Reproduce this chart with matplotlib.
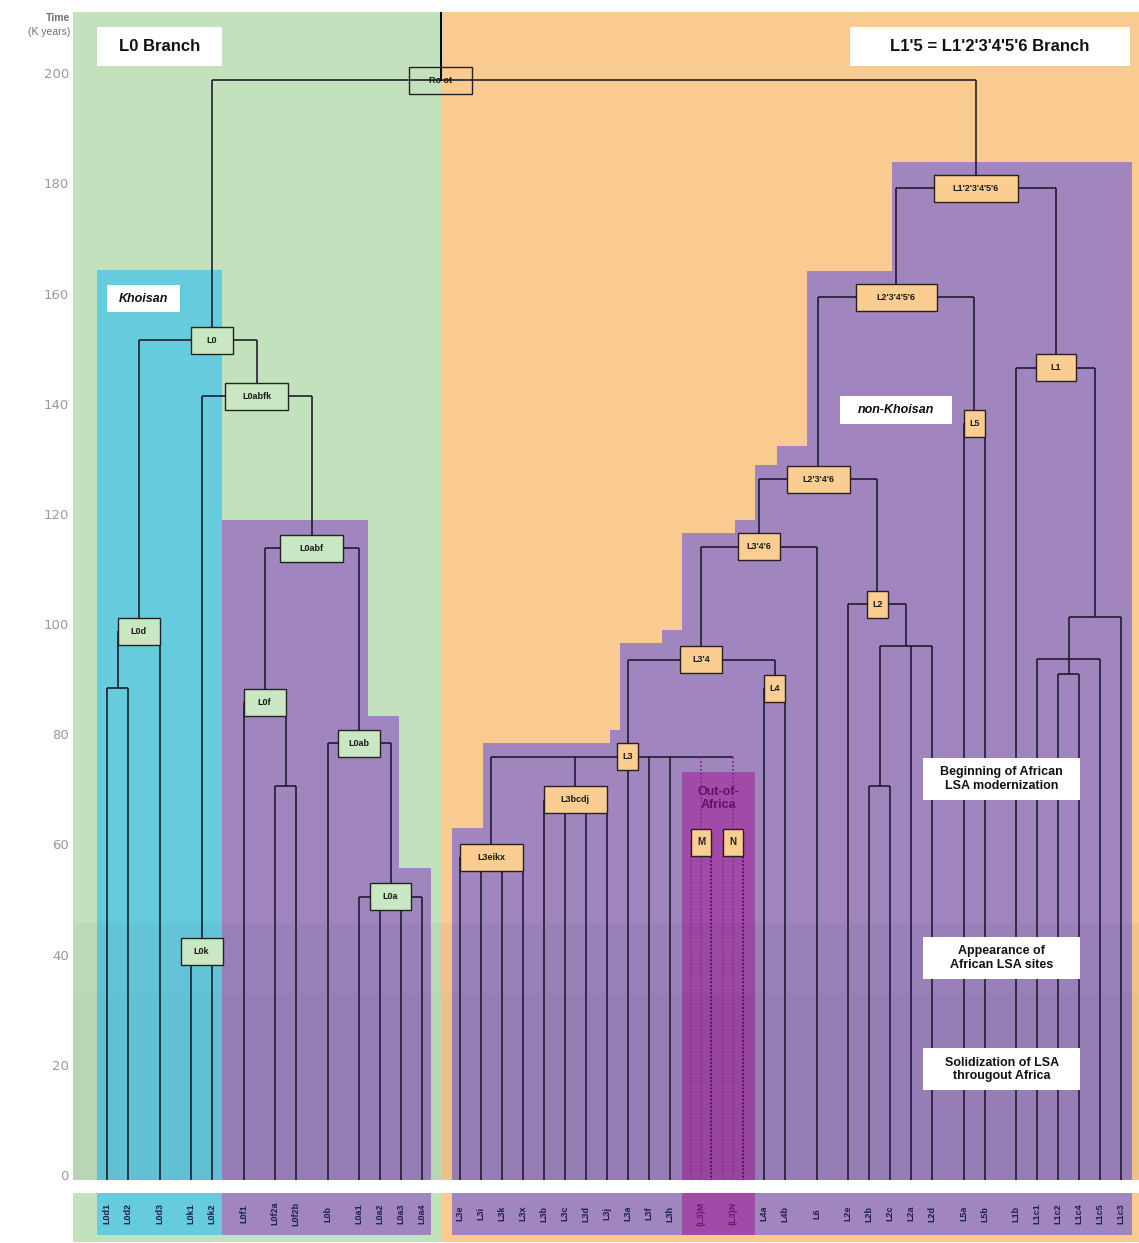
import matplotlib
matplotlib.use("Agg")
import matplotlib.pyplot as plt
from matplotlib.patches import Rectangle, Polygon

plt.rcParams['font.family'] = ['Liberation Sans', 'DejaVu Sans']

# --- data -----------------------------------------------------------------
# haplogroup tips, left to right
leaves = ["L0d1", "L0d2", "L0d3", "L0k1", "L0k2", "L0f1", "L0f2a", "L0f2b", "L0b",
          "L0a1", "L0a2", "L0a3", "L0a4",
          "L3e", "L3i", "L3k", "L3x", "L3b", "L3c", "L3d", "L3j", "L3a", "L3f", "L3h",
          "(L3)M", "(L3)N", "L4a", "L4b", "L6", "L2e", "L2b", "L2c", "L2a", "L2d",
          "L5a", "L5b", "L1b", "L1c1", "L1c2", "L1c4", "L1c5", "L1c3"]

# internal nodes (names starting with _ are not labelled), age in K years
node_names = ["Root", "L0", "L0d", "_L0d12", "L0abfk", "L0k", "L0abf", "L0f", "_L0f2",
              "L0ab", "L0a",
              "L1'2'3'4'5'6", "L2'3'4'5'6", "L2'3'4'6", "L3'4'6", "L3'4", "L3",
              "L3eikx", "L3bcdj", "L4", "L2", "_L2bcad", "_L2bc", "L5",
              "L1", "_L1c", "_L1c125", "_L1c24"]
node_ages = [198.7, 151.5, 98.7, 88.4, 141.4, 40.5, 113.8, 85.8, 70.6,
             78.4, 50.5,
             179.1, 159.3, 126.3, 114.0, 93.5, 75.9,
             57.7, 68.1, 88.4, 103.6, 96.0, 70.6, 136.5,
             146.5, 101.3, 93.6, 90.9]
node_children = [["L0", "L1'2'3'4'5'6"], ["L0d", "L0abfk"], ["_L0d12", "L0d3"],
                 ["L0d1", "L0d2"], ["L0k", "L0abf"], ["L0k1", "L0k2"], ["L0f", "L0ab"],
                 ["L0f1", "_L0f2"], ["L0f2a", "L0f2b"], ["L0b", "L0a"],
                 ["L0a1", "L0a2", "L0a3", "L0a4"],
                 ["L2'3'4'5'6", "L1"], ["L2'3'4'6", "L5"], ["L3'4'6", "L2"],
                 ["L3'4", "L6"], ["L3", "L4"],
                 ["L3eikx", "L3bcdj", "L3a", "L3f", "L3h", "(L3)M", "(L3)N"],
                 ["L3e", "L3i", "L3k", "L3x"], ["L3b", "L3c", "L3d", "L3j"],
                 ["L4a", "L4b"], ["L2e", "_L2bcad"], ["_L2bc", "L2a", "L2d"],
                 ["L2b", "L2c"], ["L5a", "L5b"],
                 ["L1b", "_L1c"], ["_L1c125", "L1c3"], ["L1c1", "_L1c24", "L1c5"],
                 ["L1c2", "L1c4"]]

# out-of-Africa lineages
ooa_leaves = ["(L3)M", "(L3)N"]
ooa_text = ["M", "N"]
ooa_label_age = 60.4
ooa_top = 73.1

# clade shading tops (K years)
khoisan_top = 164.2
l0abf_tops = [118.9, 83.3, 55.7]
nonkhoisan_tops = [63.0, 78.4, 80.8, 96.5, 98.9, 116.5, 118.9, 128.9, 132.3, 164.1, 183.9]

event_labels = ["Beginning of African\nLSA modernization",
                "Appearance of\nAfrican LSA sites",
                "Solidization of LSA\nthrougout Africa"]
event_ages = [71.9, 39.4, 19.2]
band_ages = [45.7, 33.0]

# --- layout ---------------------------------------------------------------
leaf_gap = [0, 2, 3, 3, 2, 3, 3, 2, 3, 3, 2, 2, 2,
            3.6, 2, 2, 2, 2, 2, 2, 2, 2, 2, 2,
            3, 3, 3, 2, 3, 3, 2, 2, 2, 2, 3, 2, 3, 2, 2, 2, 2, 2]
XL, XR, YB, YT = -3.24, 98.29, -0.9, 211.1
split = 31.8
l0abf_x = [10.95, 24.86, 27.81, 30.86]
nonk_x = [32.86, 35.81, 47.9, 48.86, 52.86, 54.76, 59.81, 61.71, 63.81, 66.67, 74.76, 97.62]
ooa_x = (54.76, 61.71)
box_w = {"Root": 6, "L0": 4, "L0d": 4, "L0abfk": 6, "L0k": 4, "L0abf": 6, "L0f": 4,
         "L0ab": 4, "L0a": 4, "L1'2'3'4'5'6": 8, "L2'3'4'5'6": 7.7, "L1": 3.8,
         "L5": 2, "L2'3'4'6": 6, "L3'4'6": 4, "L2": 2, "L3'4": 4, "L4": 2, "L3": 2,
         "L3bcdj": 6, "L3eikx": 6}
box_h = 4.9
stem_on = {"L0": "L0k2", "L3": "L3a"}

GREEN, ORANGE, CYAN = "#c4e1be", "#facb91", "#67cbde"
PURPLE, MAGENTA = "#a085be", "#a24aa8"
BOX_G, BOX_O = "#cae7c3", "#fccd91"
LINE = "#1d1a2b"

leaf_x = {}
pos = 0
for name, g in zip(leaves, leaf_gap):
    pos += g
    leaf_x[name] = pos
ages = dict(zip(node_names, node_ages))
kids = dict(zip(node_names, node_children))


def xpos(n):
    if n in leaf_x:
        return leaf_x[n]
    if n == "Root":
        return split
    if n in stem_on:
        return leaf_x[stem_on[n]]
    c = kids[n]
    return (xpos(c[0]) + xpos(c[-1])) / 2


fig = plt.figure(figsize=(11.39, 12.43), dpi=100)
ax = fig.add_axes([73 / 1139, 1 - 1180 / 1243, 1 - 73 / 1139, 1168 / 1243])
ax.set_xlim(XL, XR)
ax.set_ylim(YB, YT)
for s in ax.spines.values():
    s.set_visible(False)
ax.set_xticks([])
ax.set_yticks(range(0, 201, 20))
ax.tick_params(axis='y', length=0, pad=3, labelsize=9.5, labelcolor='#9a9a9a')
for t in ax.get_yticklabels():
    t.set_family('DejaVu Sans')

# backgrounds
ax.add_patch(Rectangle((XL, YB), split - XL, YT - YB, fc=GREEN, ec='none', zorder=0))
ax.add_patch(Rectangle((split, YB), XR - split, YT - YB, fc=ORANGE, ec='none', zorder=0))
ax.add_patch(Rectangle((-0.95, YB), 11.9, khoisan_top - YB, fc=CYAN, ec='none', zorder=0.2))


def stairs(xs, tops, **kw):
    pts = [(xs[0], YB)]
    for i, t in enumerate(tops):
        pts += [(xs[i], t), (xs[i + 1], t)]
    pts.append((xs[-1], YB))
    return Polygon(pts, closed=True, ec='none', zorder=0.2, **kw)


ax.add_patch(stairs(l0abf_x, l0abf_tops, fc=PURPLE))
ax.add_patch(stairs(nonk_x, nonkhoisan_tops, fc=PURPLE))
ax.add_patch(Rectangle((ooa_x[0], YB), ooa_x[1] - ooa_x[0], ooa_top - YB,
                       fc=MAGENTA, ec='none', zorder=0.3))
for b, al in zip(band_ages, [0.03, 0.015]):
    ax.axhspan(YB, b, fc='k', alpha=al, lw=0, zorder=0.5)

# tree
lk = dict(color=LINE, lw=1.3, alpha=0.9, zorder=2, solid_capstyle='butt')
for n in node_names:
    xs = [xpos(c) for c in kids[n]]
    ax.plot([min(xs), max(xs)], [ages[n], ages[n]], **lk)
    for c, cx in zip(kids[n], xs):
        if c in ooa_leaves:
            continue
        ax.plot([cx, cx], [ages[n], ages.get(c, YB)], **lk)
ax.plot([split, split], [ages["Root"], YT], color='k', lw=1.4, zorder=2)

# out-of-Africa dotted lineages
dot = (0, (1.2, 1.2))
for leaf, txt in zip(ooa_leaves, ooa_text):
    x = leaf_x[leaf]
    ax.plot([x, x], [ages["L3"], ooa_label_age], color='#8a2c90', lw=1.2, ls=dot, zorder=2)
    for dx, col in [(-0.95, '#8a2c90'), (0, '#8a2c90'), (0.95, '#2e0f36')]:
        ax.plot([x + dx, x + dx], [ooa_label_age, YB], color=col, lw=1.1, ls=dot, zorder=2)
    ax.add_patch(Rectangle((x - 0.95, ooa_label_age - box_h / 2), 1.9, box_h,
                           fc=BOX_O, ec='#222', lw=1.0, zorder=3))
    ax.text(x, ooa_label_age, txt, ha='center', va='center', fontsize=7,
            fontweight='bold', color='#222', zorder=4)
ax.text(sum(ooa_x) / 2, 68.4, "Out-of-\nAfrica", ha='center', va='center',
        fontsize=9, fontweight='bold', color='#5e1464', linespacing=1.1, zorder=4)

# node boxes
for n in node_names:
    if n.startswith('_'):
        continue
    x, y, w = xpos(n), ages[n], box_w[n]
    if n == "Root":
        fc = 'none'
        label = "Ro ot"
    else:
        fc = BOX_G if x < split else BOX_O
        label = n
    ax.add_patch(Rectangle((x - w / 2, y - box_h / 2), w, box_h, fc=fc, ec='#222',
                           lw=1.0, zorder=3))
    ax.text(x, y, label, ha='center', va='center', fontsize=6.5, fontweight='bold',
            color='#1a1a1a', zorder=4)


# white annotation boxes
def note(x0, x1, y0, y1, text, **kw):
    ax.add_patch(Rectangle((x0, y0), x1 - x0, y1 - y0, fc='white', ec='none', zorder=3))
    ax.text((x0 + x1) / 2, (y0 + y1) / 2, text, ha='center', va='center', zorder=4,
            color='#111', **kw)


note(-0.95, 10.95, 201.3, 208.4, "L0 Branch", fontsize=12, fontweight='bold')
note(70.76, 97.43, 201.3, 208.4, "L1'5 = L1'2'3'4'5'6 Branch", fontsize=12, fontweight='bold')
note(0.0, 6.95, 156.6, 161.5, "Khoisan", fontsize=9, fontweight='bold', style='italic')
note(69.8, 80.5, 136.3, 141.4, "non-Khoisan", fontsize=9, fontweight='bold', style='italic')
for txt, a in zip(event_labels, event_ages):
    note(77.7, 92.7, a - 3.8, a + 3.8, txt, fontsize=9, fontweight='bold', linespacing=1.15)

fig.text(70 / 1139, 1 - 18 / 1243, "Time", ha='right', va='center', fontsize=7.5,
         fontweight='bold', color='#6e6e6e')
fig.text(70 / 1139, 1 - 32 / 1243, "(K years)", ha='right', va='center', fontsize=7.5,
         color='#6e6e6e')

# label strip
lab = fig.add_axes([73 / 1139, 1 / 1243, 1 - 73 / 1139, 49 / 1243])
lab.set_xlim(XL, XR)
lab.set_ylim(0, 1)
lab.axis('off')
lab.add_patch(Rectangle((XL, 0), split - XL, 1, fc=GREEN, ec='none'))
lab.add_patch(Rectangle((split, 0), XR - split, 1, fc=ORANGE, ec='none'))
lab.add_patch(Rectangle((-0.95, 0.14), 11.9, 0.86, fc=CYAN, ec='none'))
lab.add_patch(Rectangle((l0abf_x[0], 0.14), l0abf_x[-1] - l0abf_x[0], 0.86, fc=PURPLE, ec='none'))
lab.add_patch(Rectangle((nonk_x[0], 0.14), nonk_x[-1] - nonk_x[0], 0.86, fc=PURPLE, ec='none'))
lab.add_patch(Rectangle((ooa_x[0], 0.14), ooa_x[1] - ooa_x[0], 0.86, fc=MAGENTA, ec='none'))
for name in leaves:
    col = '#6a1a70' if name in ooa_leaves else '#1c2340'
    lab.text(leaf_x[name], 0.58, name, rotation=90, ha='center', va='center',
             fontsize=6.5, fontweight='bold', color=col)

fig.savefig("out.png", dpi=100)
